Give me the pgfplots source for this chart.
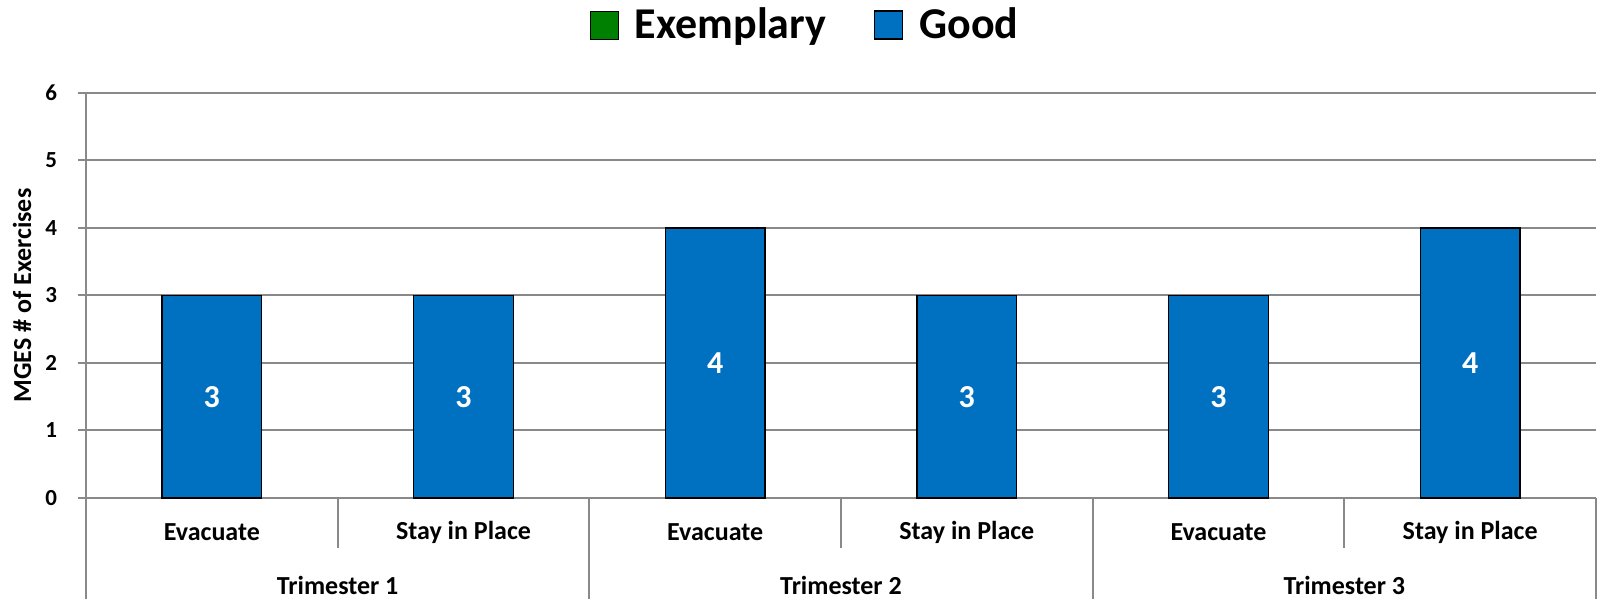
\documentclass[border=0pt]{standalone}
\usepackage{pgfplots}
\pgfplotsset{compat=1.18}
\usepackage{fontspec}
\setmainfont{Carlito}
\definecolor{goodblue}{HTML}{0070C0}
\definecolor{exgreen}{HTML}{008000}
\definecolor{gridgray}{HTML}{898989}
\begin{document}
\begin{tikzpicture}
\begin{axis}[
  scale only axis,
  width=755pt, height=202.5pt,
  xmin=-0.5, xmax=5.5,
  ymin=0, ymax=6,
  ytick={0,...,6},
  xtick={0,...,5},
  xticklabels={Evacuate, Stay in Place, Evacuate, Stay in Place, Evacuate, Stay in Place},
  x tick style={draw=none},
  y tick style={gridgray, line width=1pt},
  tick align=outside,
  major tick length=4pt,
  axis x line*=bottom, axis y line*=left,
  axis line style={gridgray, line width=1pt, -},
  ymajorgrids,
  grid style={gridgray, line width=1pt},
  /pgf/number format/assume math mode=true,
  yticklabel style={font=\fontsize{11.5}{13}\selectfont\bfseries, xshift=-7pt},
  xticklabel style={font=\fontsize{13}{15}\selectfont\bfseries, anchor=center, yshift=-13pt},
  ylabel={MGES \# of Exercises},
  every axis y label/.style={at={(axis description cs:0,0.5)}, xshift=-32pt, rotate=90,
    anchor=center, font=\fontsize{13}{15}\selectfont\bfseries},
  ybar, bar width=49.75pt, bar shift=0pt,
  clip=false,
  legend style={draw=none, legend columns=-1, at={(0.477,1)}, anchor=center, yshift=34pt,
    font=\fontsize{22}{26}\selectfont\bfseries,
    /tikz/every even column/.append style={column sep=22pt}},
  legend image code/.code={\draw[#1] (0pt,-7pt) rectangle (14pt,7pt);},
]
\addplot[fill=exgreen, draw=none] coordinates {(0,0) (1,0) (2,0) (3,0) (4,0) (5,0)};
\addplot[fill=goodblue, draw=black, line width=0.6pt,
  nodes near coords={\pgfmathprintnumber[assume math mode=true]{\pgfplotspointmeta}},
  visualization depends on={y \as \rawy},
  every node near coord/.append style={font=\fontsize{16}{18}\selectfont\bfseries, text=white,
    anchor=center, shift={(axis direction cs:0,-\rawy/2)}}]
  coordinates {(0,3) (1,3) (2,4) (3,3) (4,3) (5,4)};
\legend{\hspace{6pt}Exemplary, \hspace{6pt}Good}
% two-level category axis
\pgfplotsinvokeforeach{0.5,2.5,4.5}{\draw[gridgray, line width=1pt] (axis cs:#1,0) -- ([yshift=-25pt]axis cs:#1,0);}
\pgfplotsinvokeforeach{-0.5,1.5,3.5,5.5}{\draw[gridgray, line width=1pt] (axis cs:#1,0) -- ([yshift=-51pt]axis cs:#1,0);}
\node[font=\fontsize{13}{15}\selectfont\bfseries, inner sep=0pt] at (axis cs:0.5,0) [yshift=-43.5pt] {Trimester 1};
\node[font=\fontsize{13}{15}\selectfont\bfseries, inner sep=0pt] at (axis cs:2.5,0) [yshift=-43.5pt] {Trimester 2};
\node[font=\fontsize{13}{15}\selectfont\bfseries, inner sep=0pt] at (axis cs:4.5,0) [yshift=-43.5pt] {Trimester 3};
\end{axis}
\pgfresetboundingbox
\path (-43pt,-50.5pt) rectangle (755.5pt,249pt);
\end{tikzpicture}
\end{document}
